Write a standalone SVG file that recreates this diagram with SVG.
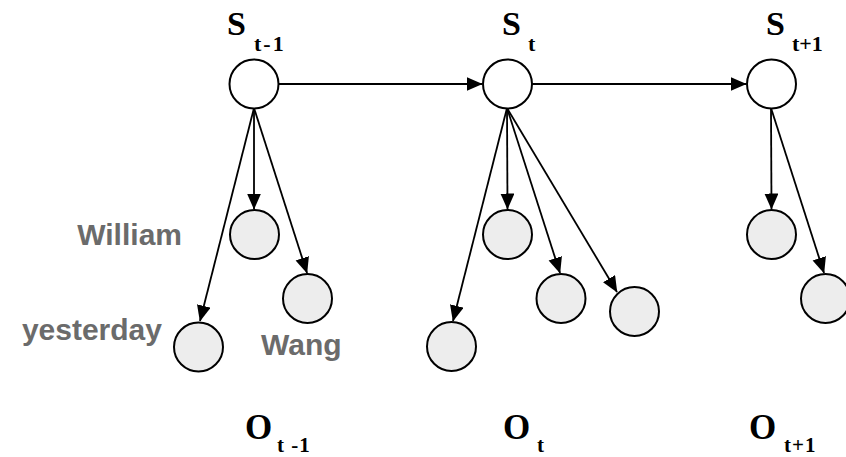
<svg xmlns="http://www.w3.org/2000/svg" width="846" height="457" viewBox="0 0 846 457">
  <defs>
    <marker id="arr" markerUnits="userSpaceOnUse" markerWidth="17" markerHeight="15" refX="15.5" refY="7" orient="auto">
      <path d="M0,0 L16,7 L0,14 z" fill="#000"/>
    </marker>
  </defs>
  <style>
    .st { fill: #ffffff; stroke: #000; stroke-width: 2; }
    .ob { fill: #ededed; stroke: #000; stroke-width: 2; }
    .edge { stroke: #000; stroke-width: 1.8; fill: none; marker-end: url(#arr); }
    .big { font-family: "Liberation Serif", "Times New Roman", serif; font-weight: bold; fill: #000; }
    .word { font-family: "Liberation Sans", Arial, sans-serif; font-weight: bold; font-size: 30px; fill: #6b6b6b; }
  </style>
  <rect width="846" height="457" fill="#ffffff"/>

  <g id="connectors">
    <line class="edge" x1="279" y1="84" x2="482" y2="84"/>
    <line class="edge" x1="532" y1="84" x2="746" y2="84"/>
    <line class="edge" x1="254" y1="108" x2="254" y2="209"/>
    <line class="edge" x1="254" y1="108" x2="307" y2="273"/>
    <line class="edge" x1="254" y1="108" x2="200" y2="321"/>
    <line class="edge" x1="507" y1="108" x2="507.5" y2="209"/>
    <line class="edge" x1="507" y1="108" x2="560" y2="273"/>
    <line class="edge" x1="507" y1="108" x2="617" y2="292"/>
    <line class="edge" x1="507" y1="108" x2="453" y2="321"/>
    <line class="edge" x1="771" y1="108" x2="771.5" y2="209"/>
    <line class="edge" x1="771" y1="108" x2="824" y2="273"/>
  </g>

  <g id="s_tm1">
    <circle class="st" cx="254" cy="84" r="24.5"/>
    <text class="big" x="227" y="35" font-size="34">S</text>
    <text class="big" x="254" y="51" font-size="22" letter-spacing="2">t-1</text>
  </g>
  <g id="s_t">
    <circle class="st" cx="507.5" cy="84" r="24.5"/>
    <text class="big" x="502" y="35" font-size="34">S</text>
    <text class="big" x="528" y="51" font-size="22">t</text>
  </g>
  <g id="s_tp1">
    <circle class="st" cx="771.5" cy="84" r="24.5"/>
    <text class="big" x="766" y="35" font-size="34">S</text>
    <text class="big" x="792" y="51" font-size="22">t+1</text>
  </g>

  <g id="o_william">
    <circle class="ob" cx="254.5" cy="234.5" r="24.5"/>
    <text class="word" x="182" y="245" text-anchor="end">William</text>
  </g>
  <g id="o_wang">
    <circle class="ob" cx="307.5" cy="298.5" r="24.5"/>
    <text class="word" x="261" y="355" font-size="29">Wang</text>
  </g>
  <g id="o_yesterday">
    <circle class="ob" cx="198.5" cy="347" r="24.5"/>
    <text class="word" x="162" y="340" text-anchor="end">yesterday</text>
  </g>

  <g id="o_t1"><circle class="ob" cx="507.5" cy="234.5" r="24.5"/></g>
  <g id="o_t2"><circle class="ob" cx="561" cy="298.5" r="24.5"/></g>
  <g id="o_t3"><circle class="ob" cx="634.5" cy="311.5" r="24.5"/></g>
  <g id="o_t4"><circle class="ob" cx="451.5" cy="346.5" r="24.5"/></g>

  <g id="o_tp1_1"><circle class="ob" cx="771.5" cy="234.5" r="24.5"/></g>
  <g id="o_tp1_2"><circle class="ob" cx="825.5" cy="298.5" r="24.5"/></g>

  <g id="label_o_tm1">
    <text class="big" x="245" y="439" font-size="35">O</text>
    <text class="big" x="277" y="452" font-size="21" letter-spacing="1">t -1</text>
  </g>
  <g id="label_o_t">
    <text class="big" x="503" y="439" font-size="35">O</text>
    <text class="big" x="537" y="452" font-size="21">t</text>
  </g>
  <g id="label_o_tp1">
    <text class="big" x="749" y="439" font-size="35">O</text>
    <text class="big" x="784" y="452" font-size="21" letter-spacing="1">t+1</text>
  </g>
</svg>
